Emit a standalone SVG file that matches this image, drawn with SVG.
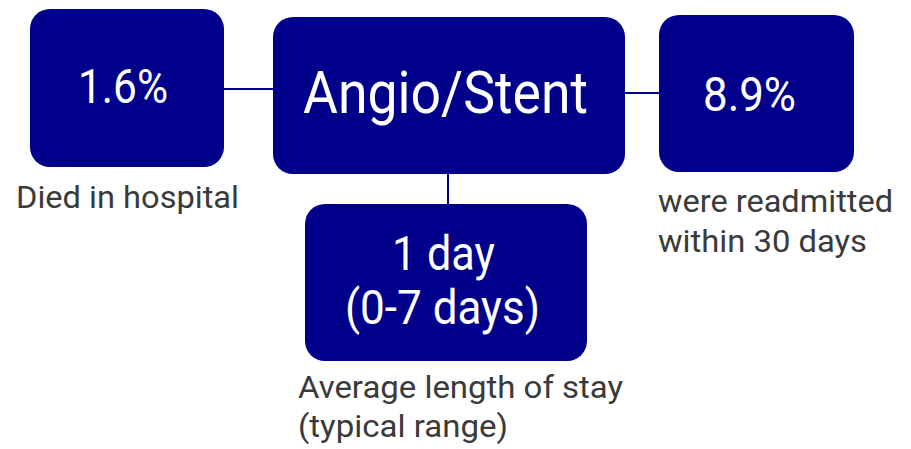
<svg xmlns="http://www.w3.org/2000/svg" width="911" height="449" viewBox="0 0 911 449">
<style>
.box{fill:#00008B}
.conn{stroke:#00008B;stroke-width:2;fill:none}
.big{font-family:Roboto,"Liberation Sans",sans-serif;fill:#fff;text-anchor:middle}
.lab{font-family:Roboto,"Liberation Sans",sans-serif;fill:#3a3a3a;font-size:32px}
</style>
<rect width="911" height="449" fill="#fff"/>
<g id="connectors">
<line class="conn" x1="224" y1="89" x2="274" y2="89"/>
<line class="conn" x1="624" y1="93" x2="660" y2="93"/>
<line class="conn" x1="448" y1="173" x2="448" y2="205"/>
</g>
<g id="died">
<rect class="box" x="30" y="9" width="194" height="158" rx="20"/>
<text class="big" x="123" y="103" font-size="49" textLength="90" lengthAdjust="spacingAndGlyphs">1.6%</text>
<text class="lab" x="16" y="208" textLength="223" lengthAdjust="spacingAndGlyphs">Died in hospital</text>
</g>
<g id="angio">
<rect class="box" x="273" y="17" width="352" height="157" rx="20"/>
<text class="big" x="445.5" y="113" font-size="60" textLength="285" lengthAdjust="spacingAndGlyphs">Angio/Stent</text>
</g>
<g id="readmit">
<rect class="box" x="659" y="15" width="195" height="157" rx="20"/>
<text class="big" x="749.5" y="111" font-size="49" textLength="93" lengthAdjust="spacingAndGlyphs">8.9%</text>
<text class="lab" x="658" y="212" textLength="235" lengthAdjust="spacingAndGlyphs">were readmitted</text>
<text class="lab" x="658" y="252" textLength="209" lengthAdjust="spacingAndGlyphs">within 30 days</text>
</g>
<g id="stay">
<rect class="box" x="305" y="204" width="282" height="157" rx="20"/>
<text class="big" x="443.5" y="270" font-size="49" textLength="103" lengthAdjust="spacingAndGlyphs">1 day</text>
<text class="big" x="442.5" y="324" font-size="49" textLength="195" lengthAdjust="spacingAndGlyphs">(0-7 days)</text>
<text class="lab" x="298" y="398" textLength="325" lengthAdjust="spacingAndGlyphs">Average length of stay</text>
<text class="lab" x="298" y="437" textLength="210" lengthAdjust="spacingAndGlyphs">(typical range)</text>
</g>
</svg>
